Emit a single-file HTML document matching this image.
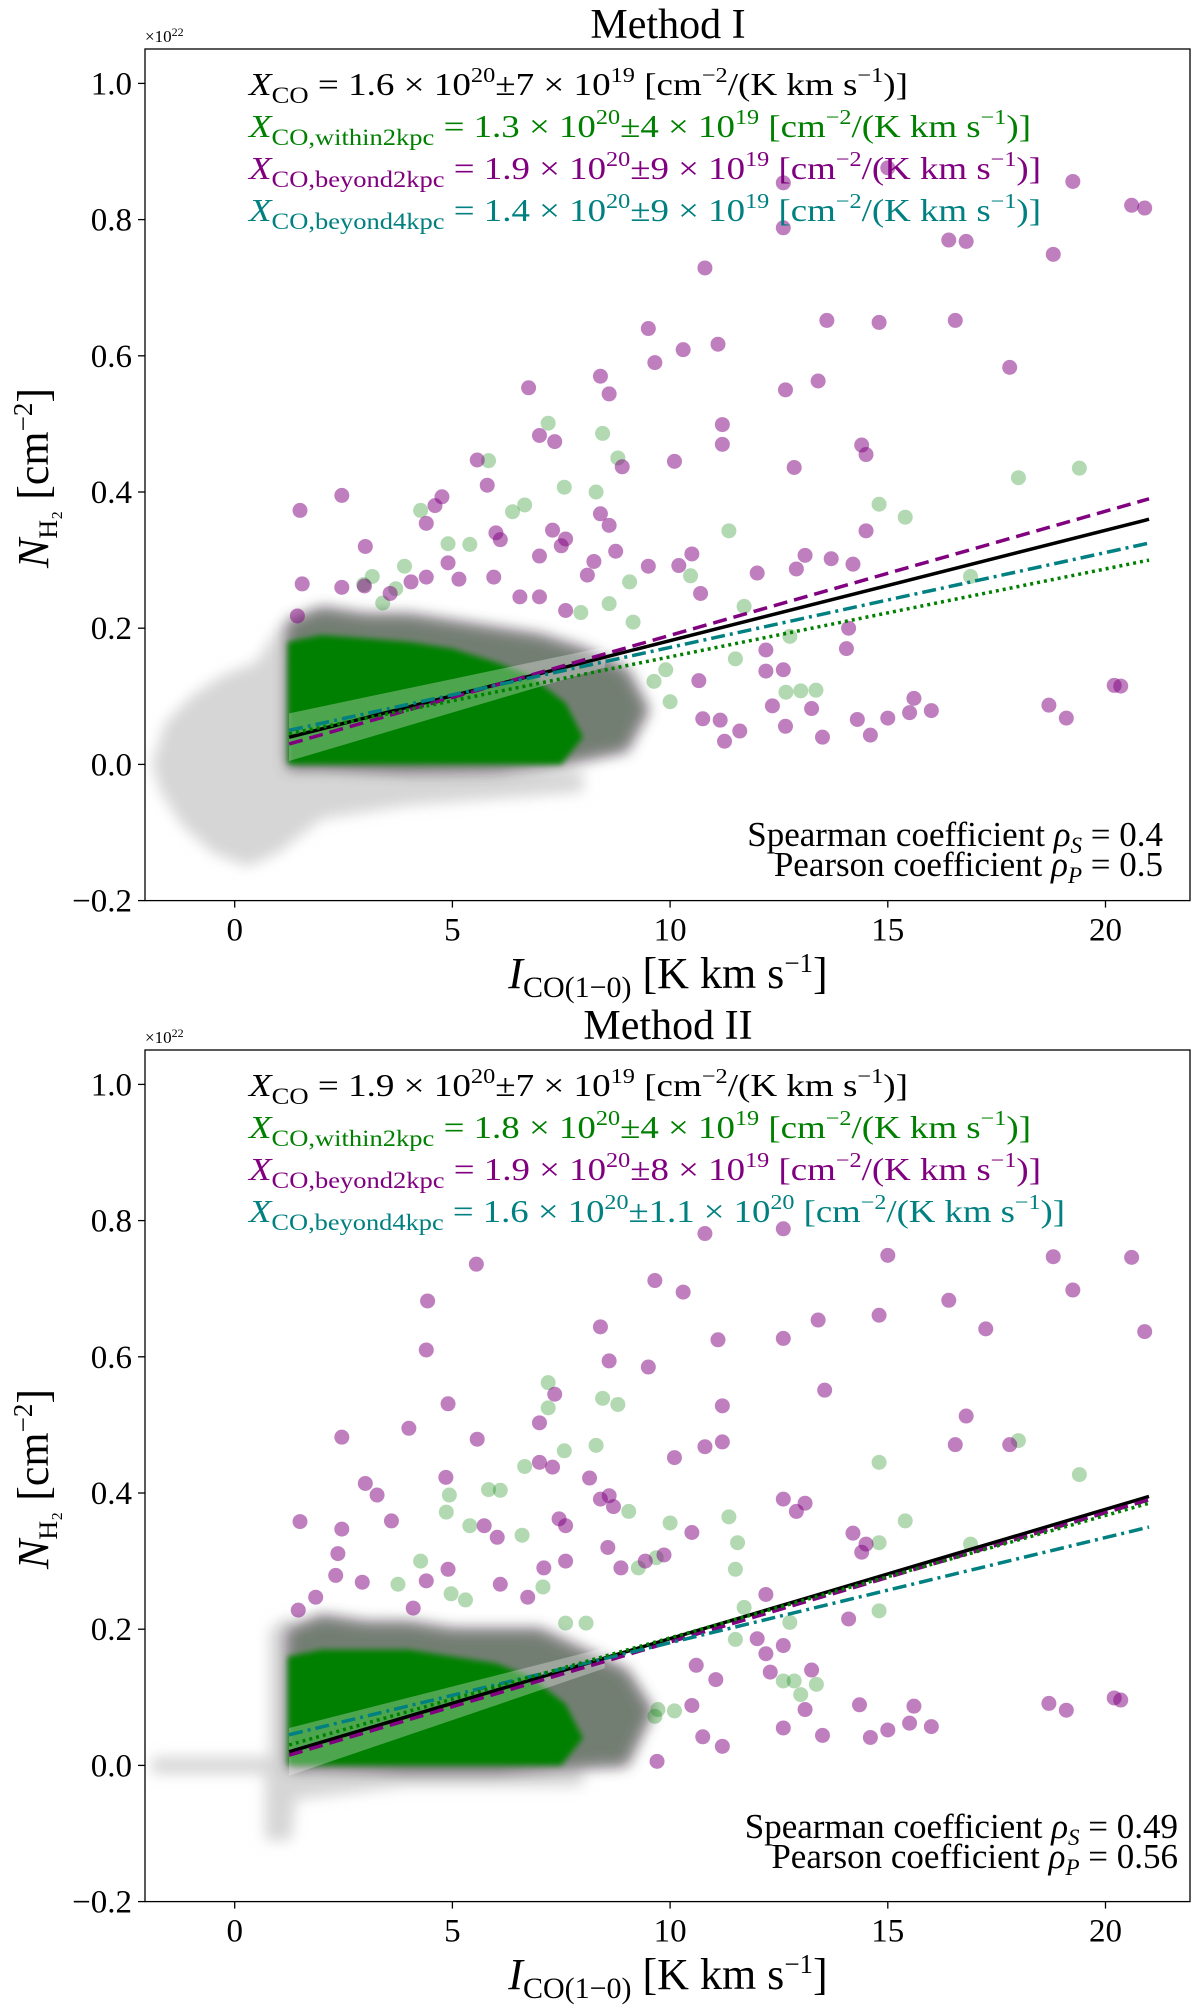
<!DOCTYPE html>
<html><head><meta charset="utf-8"><style>
body{margin:0;background:#fff}
svg{display:block;font-family:"Liberation Serif","DejaVu Serif",serif}
</style></head><body>
<svg id="fig" width="1200" height="2011" viewBox="0 0 1200 2011" xmlns="http://www.w3.org/2000/svg">
<defs><filter id="blur" x="-20%" y="-20%" width="140%" height="140%"><feGaussianBlur stdDeviation="7"/></filter>
<filter id="blur2" x="-20%" y="-20%" width="140%" height="140%"><feGaussianBlur stdDeviation="3"/></filter></defs>
</svg>
<script>
// ---- data ----
const xTicks=[0,5,10,15,20];
const yTicks=[-0.2,0.0,0.2,0.4,0.6,0.8,1.0];
const yTickLabels=["\u22120.2","0.0","0.2","0.4","0.6","0.8","1.0"];
const titles=["Method I","Method II"];
const fitX=[1.25,21];
const fit1Black=[0.04,0.36],fit1Purple=[0.03,0.39],fit1Teal=[0.05,0.325],fit1Green=[0.045,0.30];
const fit2Black=[0.02,0.395],fit2Purple=[0.015,0.39],fit2Teal=[0.045,0.35],fit2Green=[0.03,0.385];
const p1PurpleX=[12.6,15.0,19.25,20.6,20.9,10.8,12.6,16.4,16.8,18.8,13.6,14.8,16.55,9.5,10.3,11.1,9.65,17.8,8.4,8.6,6.75,12.65,13.4,11.2,11.2,10.1,14.4,14.5,12.85,8.9,5.57,5.8,7.0,7.35,1.5,2.46,4.76,4.6,4.4,3.0,14.5,13.7,14.2,13.1,12.0,12.9,14.1,14.05,12.2,12.2,12.6,13.25,12.35,12.65,13.5,14.3,14.6,15.0,15.6,15.5,16.0,18.7,19.1,20.2,20.35,10.75,11.25,11.6,11.15,10.66,10.2,10.5,10.7,9.5,8.25,8.1,8.75,8.4,8.6,7.6,7.5,7.3,7.0,6.1,6.0,5.95,5.15,4.9,4.4,4.05,3.57,2.98,2.46,1.55,1.44,7.0,7.6,6.55];
const p1PurpleY=[0.854,0.876,0.856,0.821,0.817,0.729,0.788,0.77,0.768,0.749,0.652,0.649,0.652,0.64,0.609,0.617,0.59,0.583,0.57,0.544,0.553,0.55,0.563,0.499,0.47,0.445,0.469,0.455,0.436,0.437,0.447,0.41,0.483,0.474,0.373,0.395,0.393,0.38,0.354,0.32,0.343,0.302,0.294,0.307,0.281,0.287,0.2,0.17,0.168,0.137,0.139,0.082,0.086,0.056,0.04,0.066,0.043,0.068,0.097,0.076,0.079,0.087,0.068,0.116,0.115,0.067,0.034,0.049,0.065,0.123,0.292,0.309,0.251,0.291,0.298,0.278,0.313,0.368,0.351,0.331,0.321,0.344,0.306,0.33,0.34,0.275,0.272,0.296,0.275,0.268,0.251,0.262,0.26,0.265,0.218,0.246,0.226,0.246];
const p1GreenX=[7.2,8.45,8.8,7.57,8.3,5.83,6.66,6.38,4.27,18.0,19.4,14.8,15.4,11.35,16.9,4.9,5.4,9.07,10.47,11.7,12.75,11.5,12.66,13.0,13.35,9.63,9.9,10.0,3.9,2.96,3.16,3.7,3.4,9.15,8.6,7.95];
const p1GreenY=[0.501,0.486,0.45,0.407,0.4,0.446,0.381,0.371,0.373,0.421,0.435,0.382,0.363,0.343,0.276,0.324,0.323,0.268,0.277,0.232,0.188,0.155,0.106,0.108,0.109,0.122,0.139,0.092,0.291,0.264,0.276,0.258,0.237,0.209,0.236,0.223];
const p1CoreX=[1.22,1.22,2,3,4,5,6,6.8,7.6,8,7.5,1.3];
const p1CoreY=[0.0,0.18,0.19,0.185,0.18,0.17,0.15,0.13,0.09,0.04,0.0,0.0];
const p1HaloX=[1.22,1.22,2,3,4,5,6,7,8,9,9.5,9,7.5,6,4,2];
const p1HaloY=[-0.005,0.21,0.23,0.22,0.22,0.21,0.2,0.19,0.17,0.14,0.08,0.02,0.0,-0.01,-0.01,-0.005];
const p1GrayX=[-1.9,-1.6,-1.0,-0.3,0.5,1.0,1.25,2,4,6,8,8,6,4,2,1,0.3,-0.5,-1.2,-1.7];
const p1GrayY=[0.0,0.06,0.1,0.13,0.15,0.2,0.21,0.02,0.0,-0.01,-0.01,-0.04,-0.05,-0.06,-0.08,-0.13,-0.15,-0.13,-0.09,-0.04];
const p2PurpleX=[10.8,12.6,15.0,18.8,20.6,19.25,10.3,9.65,5.55,4.43,4.4,16.4,13.4,14.8,20.9,17.25,12.6,11.1,8.4,8.6,9.5,11.2,4.9,13.55,7.35,16.8,4.0,5.57,2.46,7.0,11.2,10.8,16.55,17.8,10.1,7.0,7.3,8.15,4.85,3.0,3.27,3.6,1.5,2.46,12.6,13.1,12.9,14.2,14.5,14.4,10.5,8.4,8.6,8.7,7.45,7.6,5.73,6.03,12.2,14.1,12.2,12.3,13.25,13.1,12.6,13.5,14.35,14.6,15.0,15.6,15.5,16.0,18.7,19.1,20.2,20.35,11.2,10.75,10.5,11.05,10.6,9.7,12.6,12.0,4.9,4.4,4.1,2.93,2.37,2.32,1.86,1.46,6.1,6.73,7.6,7.1,9.43,9.86,8.87,8.57];
const p2PurpleY=[0.781,0.788,0.749,0.747,0.746,0.698,0.695,0.712,0.736,0.682,0.61,0.683,0.654,0.661,0.637,0.641,0.627,0.625,0.644,0.594,0.585,0.528,0.531,0.551,0.545,0.513,0.495,0.479,0.482,0.503,0.475,0.468,0.471,0.471,0.452,0.445,0.438,0.422,0.423,0.414,0.397,0.359,0.358,0.347,0.391,0.385,0.373,0.341,0.325,0.313,0.342,0.391,0.396,0.38,0.362,0.352,0.352,0.335,0.251,0.215,0.164,0.137,0.14,0.082,0.055,0.044,0.089,0.041,0.052,0.087,0.062,0.057,0.091,0.081,0.099,0.096,0.028,0.042,0.088,0.126,0.147,0.006,0.176,0.186,0.288,0.271,0.231,0.269,0.311,0.279,0.247,0.228,0.266,0.247,0.3,0.29,0.3,0.309,0.29,0.32];
const p2GreenX=[7.2,7.2,8.45,8.8,8.3,7.57,6.66,14.8,18.0,19.4,5.83,6.1,4.93,4.86,9.05,15.4,11.35,10.0,11.55,16.9,5.4,6.6,14.8,11.5,14.8,11.7,12.75,11.5,12.6,12.85,13.36,13.0,9.68,9.27,9.72,10.1,9.65,3.75,4.27,4.97,5.3,7.08,8.07,7.6];
const p2GreenY=[0.562,0.525,0.539,0.53,0.47,0.462,0.439,0.445,0.477,0.427,0.405,0.404,0.397,0.372,0.373,0.359,0.365,0.356,0.327,0.325,0.352,0.338,0.327,0.288,0.227,0.232,0.21,0.185,0.124,0.124,0.119,0.104,0.305,0.29,0.082,0.08,0.072,0.266,0.3,0.252,0.243,0.262,0.209,0.209];
const p2CoreX=[1.22,1.22,2,3,4,5,6,6.8,7.6,8,7.5,1.3];
const p2CoreY=[0.0,0.16,0.17,0.17,0.17,0.16,0.15,0.13,0.09,0.04,0.0,0.0];
const p2HaloX=[1.22,1.22,2,3,4,5,6,7,8,9,9.6,9,7.5,6,4,2];
const p2HaloY=[-0.005,0.2,0.22,0.21,0.21,0.2,0.2,0.2,0.17,0.14,0.08,0.0,-0.005,-0.01,-0.01,-0.005];
const p2GrayX=[-1.9,0.8,0.8,1.3,1.3,3,6,8,8,4,1.4,1.3,0.7,0.7,-1.9];
const p2GrayY=[0.012,0.012,0.2,0.22,0.01,0.0,0.0,-0.005,-0.03,-0.03,-0.05,-0.11,-0.11,-0.012,-0.012];

const NS="http://www.w3.org/2000/svg";
const svg=document.getElementById('fig');
function mk(tag,attrs,parent){const e=document.createElementNS(NS,tag);for(const k in attrs)e.setAttribute(k,attrs[k]);(parent||svg).appendChild(e);return e;}

const L=145,R=1190,X0=234.7,XU=43.54;
function sx(v){return X0+v*XU;}

function panel(off,idx,fits,purX,purY,grnX,grnY,coreX,coreY,haloX,haloY,grayX,grayY,legend,legEnds,corr,corrEnd){
  const Y0=764.4+off,YU=681;
  const sy=v=>Y0-v*YU;
  const top=49+off,bot=sy(-0.2);
  const g=mk('g',{});
  
  
  const clip=mk('clipPath',{id:'c'+idx},g);mk('rect',{x:L,y:top,width:R-L,height:bot-top},clip);
  const pg=mk('g',{'clip-path':'url(#c'+idx+')'},g);
  const poly=(xs,ys,fill,op,name,flt)=>{const p=mk('polygon',{points:xs.map((x,i)=>sx(x)+','+sy(ys[i])).join(' '),fill:fill,'fill-opacity':op,filter:flt},pg);
    };
  poly(grayX,grayY,'#d6d6d6',1,'gray-cloud','url(#blur)');
  poly(haloX,haloY,'#800080',0.45,'purple-halo','url(#blur)');
  poly(haloX,haloY,'#1f701f',0.5,'green-halo','url(#blur)');
  poly(coreX,coreY,'#008000',1,'green-core','url(#blur2)');
  const f0=fits[0],sl=(f0[1]-f0[0])/19.75;
  const bx=[1.25,8.5,8.5,1.25],by=[f0[0]+0.035,f0[0]+sl*7.25+0.015,f0[0]+sl*7.25-0.015,f0[0]-0.035];
  const band=mk('polygon',{points:bx.map((x,i)=>sx(x)+','+sy(by[i])).join(' '),fill:'#ffffff','fill-opacity':0.3},pg);
  
  grnX.forEach((x,i)=>{const c=mk('circle',{cx:sx(x),cy:sy(grnY[i]),r:7.5,fill:'#008000','fill-opacity':0.3},pg);
    });
  purX.forEach((x,i)=>{const c=mk('circle',{cx:sx(x),cy:sy(purY[i]),r:7.5,fill:'#800080','fill-opacity':0.5},pg);
    });
  const styles=[['#000','none','fit-all'],['#800080','14,7','fit-beyond2kpc'],['#008080','14,5,3,5','fit-beyond4kpc'],['#008000','3,4','fit-within2kpc']];
  fits.forEach((f,i)=>{const ln=mk('line',{x1:sx(fitX[0]),y1:sy(f[0]),x2:sx(fitX[1]),y2:sy(f[1]),stroke:styles[i][0],'stroke-width':3.5,'stroke-dasharray':styles[i][1]},pg);
    });
  const fr=mk('rect',{x:L,y:top,width:R-L,height:bot-top,fill:'none',stroke:'#000','stroke-width':1.3},g);
  
  xTicks.forEach(t=>{mk('line',{x1:sx(t),y1:bot,x2:sx(t),y2:bot+7,stroke:'#000','stroke-width':1.3},g);
    const tx=mk('text',{x:sx(t),y:bot+40,'text-anchor':'middle','font-size':33},g);tx.textContent=t;
    });
  yTicks.forEach((t,i)=>{mk('line',{x1:L-7,y1:sy(t),x2:L,y2:sy(t),stroke:'#000','stroke-width':1.3},g);
    const tx=mk('text',{x:132,y:sy(t)+11,'text-anchor':'end','font-size':33},g);tx.textContent=yTickLabels[i];
    });
  const ex=mk('text',{x:145,y:42+off,'font-size':17},g);ex.innerHTML='\u00d710<tspan dy="-6" font-size="12">22</tspan>';
  
  const ti=mk('text',{x:668,y:38+off,'text-anchor':'middle','font-size':42},g);ti.textContent=titles[idx];
  
  const cols=['#000','#008000','#800080','#008080'];
  const nm=['legend-xco-all','legend-xco-within2kpc','legend-xco-beyond2kpc','legend-xco-beyond4kpc'];
  legend.forEach((s,i)=>{const t=mk('text',{x:249,y:95+off+i*42,'font-size':32,fill:cols[i],textLength:legEnds[i]-249,lengthAdjust:'spacingAndGlyphs'},g);t.innerHTML=s;
    });
  corr.forEach((s,i)=>{const t=mk('text',{x:corrEnd,y:846+off+i*30+(idx?-9:0),'text-anchor':'end','font-size':35},g);t.innerHTML=s;
    });
  const xl=mk('text',{x:668,y:988+off,'text-anchor':'middle','font-size':44},g);
  xl.innerHTML='<tspan font-style="italic">I</tspan><tspan font-size="30" dy="9">CO(1\u22120)</tspan><tspan dy="-9"> [K km s</tspan><tspan font-size="27" dy="-16">\u22121</tspan><tspan dy="16">]</tspan>';
  
  const yl=mk('text',{x:0,y:0,'text-anchor':'middle','font-size':44,transform:'translate(48,'+(478+off)+') rotate(-90)'},g);
  yl.innerHTML='<tspan font-style="italic">N</tspan><tspan font-size="26" dy="9">H\u2082</tspan><tspan dy="-9"> [cm</tspan><tspan font-size="27" dy="-16">\u22122</tspan><tspan dy="16">]</tspan>';
  
}
const sub=s=>'<tspan font-size="23" dy="8">'+s+'</tspan><tspan dy="-8"> ';
const sup=s=>'<tspan font-size="21" dy="-13">'+s+'</tspan><tspan dy="13">';
function leg(sb,a,b,c){return '<tspan font-style="italic">X</tspan>'+sub(sb)+'= '+a+' \u00d7 10</tspan>'+sup('20')+'\u00b1'+b+' \u00d7 10</tspan>'+sup(c)+' [cm</tspan>'+sup('\u22122')+'/(K km s</tspan>'+sup('\u22121')+')]</tspan>';}
panel(0,0,[fit1Black,fit1Purple,fit1Teal,fit1Green],p1PurpleX,p1PurpleY,p1GreenX,p1GreenY,p1CoreX,p1CoreY,p1HaloX,p1HaloY,p1GrayX,p1GrayY,
 [leg('CO','1.6','7','19'),leg('CO,within2kpc','1.3','4','19'),leg('CO,beyond2kpc','1.9','9','19'),leg('CO,beyond4kpc','1.4','9','19')],[908,1031,1041,1041],
 ['Spearman coefficient <tspan font-style="italic">\u03c1</tspan><tspan font-style="italic" font-size="23" dy="7">S</tspan><tspan dy="-7"> = 0.4</tspan>','Pearson coefficient <tspan font-style="italic">\u03c1</tspan><tspan font-style="italic" font-size="23" dy="7">P</tspan><tspan dy="-7"> = 0.5</tspan>'],1163);
panel(1001,1,[fit2Black,fit2Purple,fit2Teal,fit2Green],p2PurpleX,p2PurpleY,p2GreenX,p2GreenY,p2CoreX,p2CoreY,p2HaloX,p2HaloY,p2GrayX,p2GrayY,
 [leg('CO','1.9','7','19'),leg('CO,within2kpc','1.8','4','19'),leg('CO,beyond2kpc','1.9','8','19'),leg('CO,beyond4kpc','1.6','1.1','20')],[908,1031,1041,1065],
 ['Spearman coefficient <tspan font-style="italic">\u03c1</tspan><tspan font-style="italic" font-size="23" dy="7">S</tspan><tspan dy="-7"> = 0.49</tspan>','Pearson coefficient <tspan font-style="italic">\u03c1</tspan><tspan font-style="italic" font-size="23" dy="7">P</tspan><tspan dy="-7"> = 0.56</tspan>'],1178);
</script>
</body></html>
